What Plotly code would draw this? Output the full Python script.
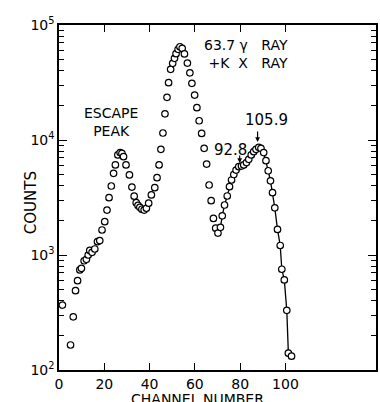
import plotly.graph_objects as go
import math

# Data (channel number, counts)
channel = [1.5, 5.1, 6.3, 7.3, 8.2, 9.2, 9.9, 11.1, 12.1, 12.9, 13.6, 14.6, 15.8, 17.0, 18.0,
           19.0, 20.2, 21.2, 22.1, 23.1, 24.1, 24.9, 26.0, 27.0, 27.8, 28.5, 29.6, 31.1, 32.2,
           33.2, 34.1, 34.9, 35.7, 36.6, 37.6, 38.6, 39.6, 40.8, 42.3, 43.3, 44.2, 45.0, 45.9,
           46.8, 47.7, 48.4, 49.3, 50.2, 51.0, 51.7, 52.6, 53.4, 54.4, 55.4, 56.7, 57.8, 58.7,
           59.9, 60.9, 61.9, 63.0, 64.1, 65.2, 66.3, 67.2, 68.2, 69.2, 70.2, 71.3, 72.1, 73.1,
           74.3, 75.3, 76.2, 77.2, 78.2, 79.4, 80.6, 81.6, 82.8, 83.8, 84.9, 86.0, 87.0, 88.2,
           89.2, 90.4, 91.4, 92.4, 93.4, 94.3, 95.3, 96.5, 97.7, 98.4, 99.5, 100.6, 101.3, 102.7]
counts = [367, 165, 290, 490, 598, 741, 766, 891, 918, 1000, 1097, 1054, 1128, 1306, 1334,
          1650, 1950, 2460, 3150, 3980, 5130, 6070, 7410, 7770, 7650, 7160, 6070, 4970, 3900,
          3250, 2850, 2700, 2600, 2500, 2460, 2550, 2820, 3330, 3850, 4700, 6070, 8300, 11500,
          16900, 23500, 31500, 41200, 46400, 51300, 56300, 61500, 64700, 62700, 56000, 46700, 38400, 31100,
          24600, 19100, 14700, 11400, 8470, 6180, 4060, 2970, 2080, 1710, 1550, 1740, 2190, 2720,
          3260, 3930, 4490, 5010, 5480, 5860, 5940, 6070, 6360, 6790, 7410, 7910, 8300, 8630,
          8470, 7770, 6610, 5400, 4420, 3480, 2570, 1670, 1210, 752, 607, 330, 140, 132]
line_start_channel = 70.2

x_tick_vals = [0, 20, 40, 60, 80, 100]
x_tick_text = ["0", "20", "40", "60", "80", "100"]
y_tick_vals = [100, 1000, 10000, 100000]
y_tick_text = ["10<sup>2</sup>", "10<sup>3</sup>", "10<sup>4</sup>", "10<sup>5</sup>"]
y_minor_vals = [m * 10 ** e for e in (2, 3, 4) for m in range(2, 10)]

FONT = "DejaVu Sans"

line_x = [c for c in channel if c >= line_start_channel]
line_y = [v for c, v in zip(channel, counts) if c >= line_start_channel]

fig = go.Figure()
fig.add_trace(go.Scatter(x=line_x, y=line_y, mode="lines",
                         line=dict(color="black", width=1.3), hoverinfo="skip"))
fig.add_trace(go.Scatter(x=channel, y=counts, mode="markers",
                         marker=dict(symbol="circle", size=6.5, color="white",
                                     line=dict(color="black", width=1.2))))

def ly(v):
    return math.log10(v)

ann_font = dict(family=FONT, size=15, color="black")
two_line_font = dict(family=FONT, size=14, color="black")
annotations = [
    dict(x=23.0, y=ly(14300), text="ESCAPE<br>PEAK", showarrow=False, align="center",
         font=two_line_font),
    dict(x=101.8, y=ly(55500), text="63.7\u00a0γ\u00a0\u00a0\u00a0RAY<br>+K\u00a0\u00a0X\u00a0\u00a0\u00a0RAY",
         showarrow=False, xanchor="right", align="right", font=two_line_font),
    dict(x=75.9, y=ly(8200), text="92.8", showarrow=False, font=ann_font),
    dict(x=91.7, y=ly(14900), text="105.9", showarrow=False, font=ann_font),
    dict(x=79.8, y=ly(6300), text="", showarrow=True, ax=0, ay=-9, arrowhead=2,
         arrowsize=0.8, arrowwidth=1.2, arrowcolor="black"),
    dict(x=87.7, y=ly(9600), text="", showarrow=True, ax=0, ay=-12, arrowhead=2,
         arrowsize=0.8, arrowwidth=1.2, arrowcolor="black"),
    dict(xref="paper", yref="paper", x=(198 - 59) / 319, y=(370 - 398.5) / 345,
         text="CHANNEL NUMBER", showarrow=False,
         font=dict(family=FONT, size=14, color="black"), yanchor="middle"),
    dict(xref="paper", yref="paper", x=(20 - 59) / 319, y=(370 - 203) / 345,
         text="COUNTS", showarrow=False, textangle=-90, font=ann_font),
]

fig.update_layout(
    width=380, height=402,
    margin=dict(l=59, r=2, t=25, b=32),
    paper_bgcolor="white", plot_bgcolor="white",
    showlegend=False,
    annotations=annotations,
    xaxis=dict(range=[0, 140], tickmode="array", tickvals=x_tick_vals, ticktext=x_tick_text,
               ticks="inside", ticklen=7, tickwidth=1.2, tickcolor="black",
               showline=True, linecolor="black", linewidth=1.5, mirror="ticks",
               showgrid=False, zeroline=False,
               tickfont=dict(family=FONT, size=14, color="black")),
    yaxis=dict(type="log", range=[2, 5], tickmode="array", tickvals=y_tick_vals,
               ticktext=y_tick_text,
               ticks="inside", ticklen=8, tickwidth=1.2, tickcolor="black",
               showline=True, linecolor="black", linewidth=1.5, mirror="ticks",
               showgrid=False, zeroline=False,
               tickfont=dict(family=FONT, size=14, color="black"),
               minor=dict(tickmode="array", tickvals=y_minor_vals, ticks="inside",
                          ticklen=5, tickwidth=1, tickcolor="black", showgrid=False)),
)

fig.write_html("out.html")
